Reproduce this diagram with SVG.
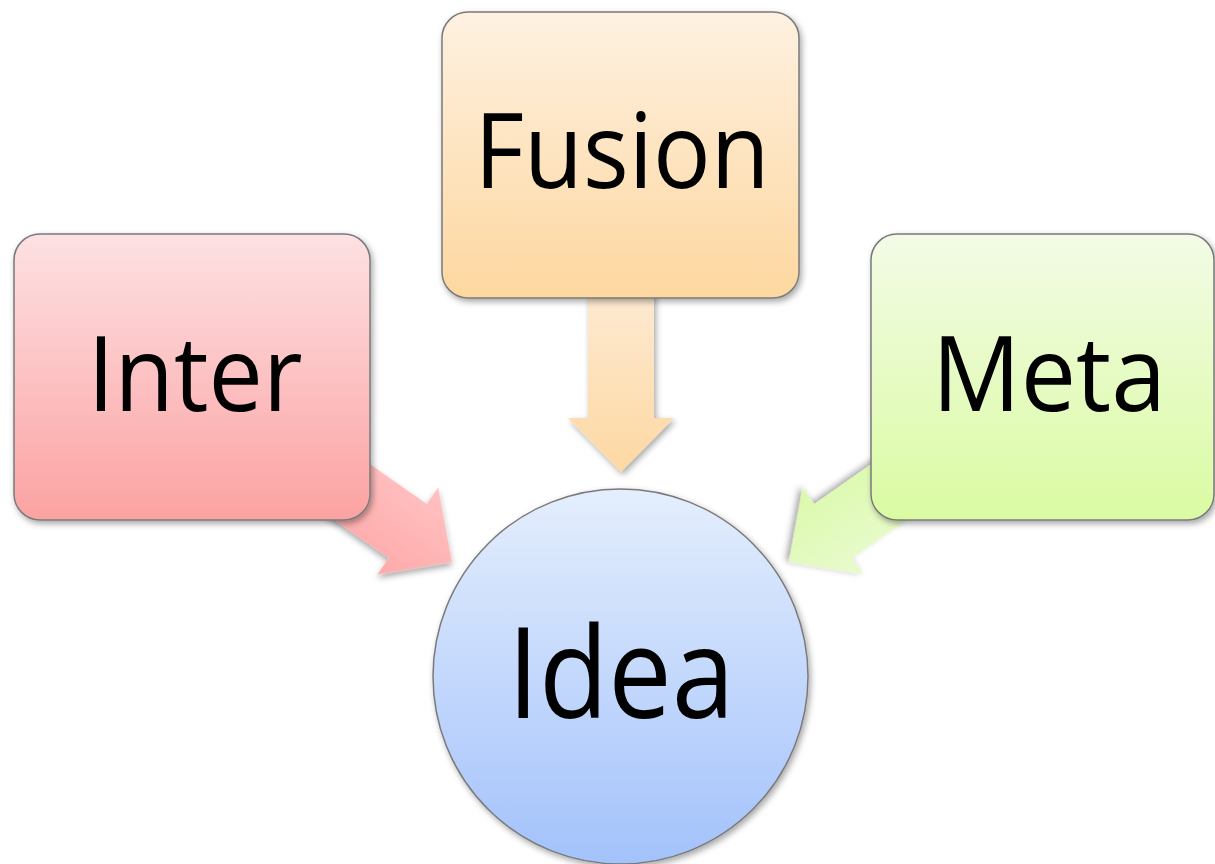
<svg xmlns="http://www.w3.org/2000/svg" width="1215" height="864" viewBox="0 0 1215 864">
<defs>
<linearGradient id="gInter" x1="0" y1="0" x2="0" y2="1"><stop offset="0" stop-color="#fde1e3"/><stop offset="1" stop-color="#fca2a2"/></linearGradient>
<linearGradient id="gFusion" x1="0" y1="0" x2="0" y2="1"><stop offset="0" stop-color="#fef1e1"/><stop offset="1" stop-color="#fdd79f"/></linearGradient>
<linearGradient id="gMeta" x1="0" y1="0" x2="0" y2="1"><stop offset="0" stop-color="#f3fbe6"/><stop offset="1" stop-color="#dafba2"/></linearGradient>
<linearGradient id="gIdea" x1="0" y1="0" x2="0" y2="1"><stop offset="0" stop-color="#e4eefd"/><stop offset="1" stop-color="#a3c2fb"/></linearGradient>
<linearGradient id="aInter" x1="0" y1="0" x2="0" y2="1"><stop offset="0" stop-color="#ffc2c2"/><stop offset="1" stop-color="#ffa9a9"/></linearGradient>
<linearGradient id="aFusion" x1="0" y1="0" x2="0" y2="1"><stop offset="0" stop-color="#feead2"/><stop offset="1" stop-color="#fdd8a2"/></linearGradient>
<linearGradient id="aMeta" x1="0" y1="0" x2="0" y2="1"><stop offset="0" stop-color="#e9fbcf"/><stop offset="1" stop-color="#dbf9ab"/></linearGradient>
<filter id="sh" x="-20%" y="-20%" width="140%" height="140%"><feDropShadow dx="2" dy="3" stdDeviation="3" flood-color="#000" flood-opacity="0.35"/></filter>
<path id="arrow" d="M-260,-33 L-54,-33 L-54,-53 L0,0 L-54,53 L-54,33 L-260,33 Z"/>
</defs>
<style>
.box{stroke:#7a7a7a;stroke-width:1.5;filter:url(#sh)}
.arr{filter:url(#sh)}
.lbl{font-family:"Open Sans","Noto Sans",sans-serif;fill:#000;text-anchor:middle}
</style>
<g id="connectors">
<use href="#arrow" class="arr" fill="url(#aInter)" transform="translate(452,562) rotate(35)"/>
<use href="#arrow" class="arr" fill="url(#aMeta)" transform="translate(789,562) rotate(145)"/>
<path class="arr" fill="url(#aFusion)" d="M588,290 L654,290 L654,418 L674,418 L621,472 L568,418 L588,418 Z"/>
</g>
<g id="node-inter">
<rect class="box" x="14" y="234" width="356" height="286" rx="26" fill="url(#gInter)"/>
<text class="lbl" x="195" y="411" font-size="104" textLength="215" lengthAdjust="spacingAndGlyphs">Inter</text>
</g>
<g id="node-fusion">
<rect class="box" x="442" y="12" width="357" height="286" rx="26" fill="url(#gFusion)"/>
<text class="lbl" x="622" y="188" font-size="104" textLength="295" lengthAdjust="spacingAndGlyphs">Fusion</text>
</g>
<g id="node-meta">
<rect class="box" x="871" y="234" width="343" height="286" rx="26" fill="url(#gMeta)"/>
<text class="lbl" x="1049" y="411" font-size="104" textLength="234" lengthAdjust="spacingAndGlyphs">Meta</text>
</g>
<g id="node-idea">
<circle class="box" cx="620.5" cy="676.5" r="187.5" fill="url(#gIdea)"/>
<text class="lbl" x="621" y="718" font-size="126" textLength="227" lengthAdjust="spacingAndGlyphs">Idea</text>
</g>
</svg>
